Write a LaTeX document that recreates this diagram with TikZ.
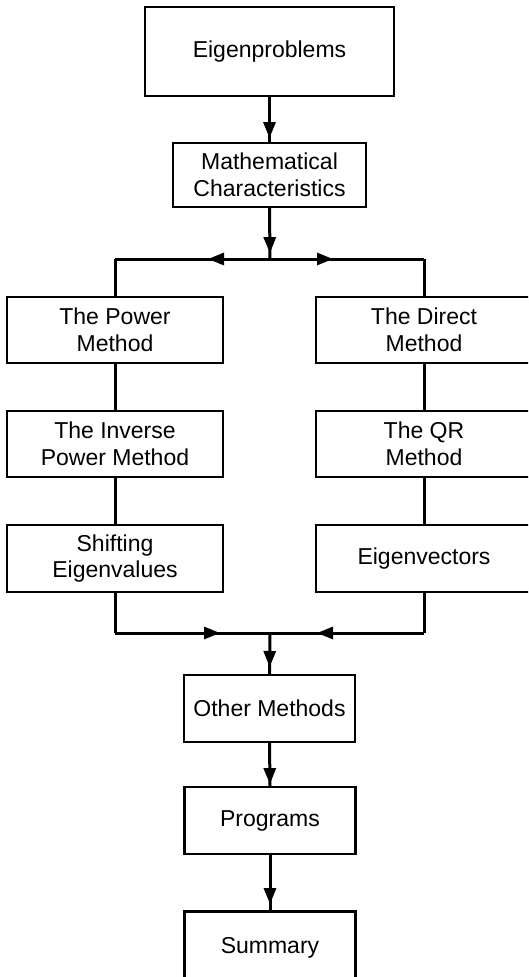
\documentclass[tikz,border=0pt]{standalone}
\usepackage{fontspec}
\setmainfont{Liberation Sans}
\usetikzlibrary{arrows.meta,decorations.markings}
\begin{document}
\begin{tikzpicture}[x=1pt,y=-1pt,
  box/.style={draw=black,line width=2.2pt,fill=white,align=center,inner sep=0pt,
    font=\fontsize{23pt}{26.5pt}\selectfont},
  conn/.style={line width=3pt},
  tipat/.style={postaction={decorate},decoration={markings,
    mark=at position #1 with {\arrow{Triangle[length=16pt,width=12pt]}}}}
]
\useasboundingbox (0,0) rectangle (528,977);
\clip (0,0) rectangle (528,977);
% nodes
\node[box,minimum width=249pt,minimum height=89pt] (ep) at (269.5,51.5) {Eigenproblems};
\node[box,minimum width=193pt,minimum height=64pt] (mc) at (269.5,175) {Mathematical\\Characteristics};
\node[box,minimum width=216pt,minimum height=66pt] (pm) at (115,330) {The Power\\Method};
\node[box,minimum width=216pt,minimum height=66pt] (ip) at (115,444) {The Inverse\\Power Method};
\node[box,minimum width=216pt,minimum height=67pt] (se) at (115,558.5) {Shifting\\Eigenvalues};
\node[box,minimum width=216pt,minimum height=66pt] (dm) at (424,330) {The Direct\\Method};
\node[box,minimum width=216pt,minimum height=66pt] (qr) at (424,444) {The QR\\Method};
\node[box,minimum width=216pt,minimum height=67pt] (ev) at (424,558.5) {Eigenvectors};
\node[box,minimum width=171pt,minimum height=67pt] (om) at (269.5,708.5) {Other Methods};
\node[box,minimum width=171pt,minimum height=67pt] (pr) at (270,820.5) {Programs};
\node[box,minimum width=171pt,minimum height=72pt] (su) at (270,947.5) {Summary};
% coordinates
\coordinate (split) at (270,259);
\coordinate (lsplit) at (115,259);
\coordinate (rsplit) at (424,259);
\coordinate (merge) at (270,633);
\coordinate (lmerge) at (115,633);
\coordinate (rmerge) at (424,633);
% connectors
\draw[conn,tipat=41pt] (ep.south) -- (mc.north);
\draw[conn,tipat=45pt] (mc.south) -- (split);
\draw[conn,tipat=62pt] (split) -- (lsplit);
\draw[conn,tipat=63pt] (split) -- (rsplit);
\draw[conn] (lsplit) -- (pm.north);
\draw[conn] (rsplit) -- (dm.north);
\draw[conn] (pm.south) -- (ip.north);
\draw[conn] (ip.south) -- (se.north);
\draw[conn] (dm.south) -- (qr.north);
\draw[conn] (qr.south) -- (ev.north);
\draw[conn] (se.south) -- (lmerge);
\draw[conn] (ev.south) -- (rmerge);
\draw[conn,tipat=105pt] (lmerge) -- (merge);
\draw[conn,tipat=107pt] (rmerge) -- (merge);
\draw[conn,tipat=34pt] (merge) -- (om.north);
\draw[conn,tipat=41pt] (om.south) -- (pr.north);
\draw[conn,tipat=49pt] (pr.south) -- (su.north);
\end{tikzpicture}
\end{document}
